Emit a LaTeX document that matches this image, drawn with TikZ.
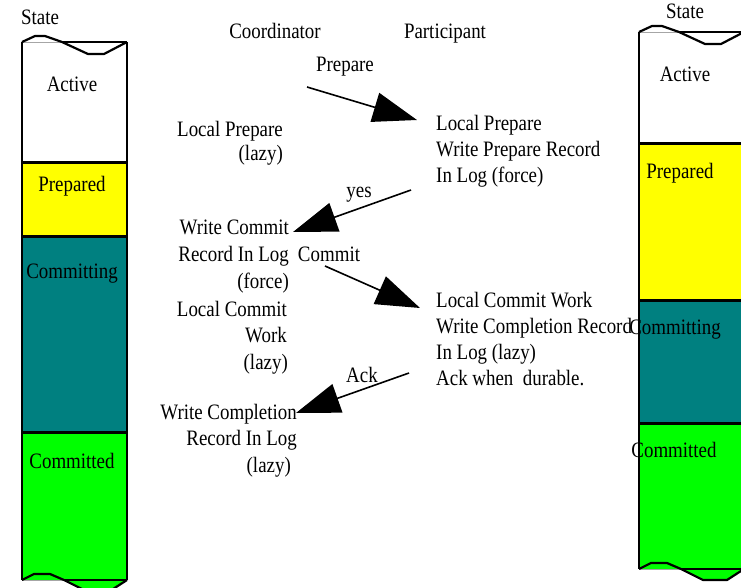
\documentclass[tikz,border=0pt]{standalone}
\usepackage{fontspec}
\setmainfont{Liberation Serif}[FakeStretch=0.86]
\usetikzlibrary{arrows.meta}

\definecolor{prepyellow}{RGB}{255,255,0}
\definecolor{committeal}{RGB}{0,128,128}
\definecolor{donegreen}{RGB}{0,255,0}

\tikzset{
  lbl/.style={font=\fontsize{22}{26}\selectfont, inner sep=0pt},
  lr/.style={lbl, anchor=base east},
  ll/.style={lbl, anchor=base west},
  lc/.style={lbl, anchor=base},
  msg/.style={line width=1.6pt, -{Triangle[length=44pt,width=30pt]}},
  sep/.style={line width=3pt},
  edge/.style={line width=1.8pt},
}

% wavy top and bottom edges of a state column, relative to its corner
\newcommand\topwave{++(0,0) -- ++(13,-6) -- ++(10,0) -- ++(17,6) -- ++(26,12) -- ++(16,0) -- ++(23,-12)}
\newcommand\botwave{++(0,0) -- ++(12,-6) -- ++(16,0) -- ++(14,6) -- ++(22,11) -- ++(24,0) -- ++(17,-11)}

% one state column: x0, top, bottom, and the three band boundaries
\newcommand\statecolumn[6]{%
  \fill[white] (#1,#2) rectangle (#1+105,#4);
  \fill[prepyellow] (#1,#4) rectangle (#1+105,#5);
  \fill[committeal] (#1,#5) rectangle (#1+105,#6);
  \fill[donegreen] (#1,#6) rectangle (#1+105,#3);
  \fill[donegreen] (#1,#3) \botwave -- cycle;
  % top edge
  \draw[gray!70, line width=0.6pt] (#1,#2) -- (#1+40,#2);
  \draw[line width=1.4pt] (#1+40,#2) -- (#1+105,#2);
  \draw[line width=2.2pt, line join=round] (#1,#2) \topwave;
  % bottom edge
  \draw[gray!70, line width=0.6pt] (#1,#3) -- (#1+42,#3);
  \draw[line width=1.4pt] (#1+42,#3) -- (#1+105,#3);
  \draw[line width=2.2pt, line join=round] (#1,#3) \botwave;
  % sides and band boundaries
  \draw[edge] (#1,#2) -- (#1,#3);
  \draw[edge] (#1+105,#2) -- (#1+105,#3);
  \draw[sep] (#1,#4) -- (#1+105,#4);
  \draw[sep] (#1,#5) -- (#1+105,#5);
  \draw[sep] (#1,#6) -- (#1+105,#6);
}

\begin{document}
\begin{tikzpicture}[x=1pt, y=-1pt]
\clip (0,0) rectangle (741,587);
\fill[white] (0,0) rectangle (741,587);

% coordinator state column
\statecolumn{22}{42}{580}{162}{236}{432}
\node[lc] (stateL) at (40,24) {State};
\node[lc] (activeL) at (72,91) {Active};
\node[lc] (preparedL) at (72,191) {Prepared};
\node[lc] (committingL) at (72,278) {Committing};
\node[lc] (committedL) at (72,468) {Committed};

% participant state column
\statecolumn{639}{32}{569}{143}{300}{423}
\node[lc] (stateR) at (685,18) {State};
\node[lc] (activeR) at (685,81) {Active};
\node[lc] (preparedR) at (680,178) {Prepared};
\node[lc] (committingR) at (675,334) {Committing};
\node[lc] (committedR) at (674,457) {Committed};

% headings
\node[lc] (coord) at (275,38) {Coordinator};
\node[lc] (part) at (445,38) {Participant};

% coordinator actions
\node[lr] (c1a) at (283,136) {Local Prepare};
\node[lr] (c1b) at (283,160) {(lazy)};

\node[lr] (c2a) at (289,234) {Write Commit};
\node[lr] (c2b) at (289,261) {Record In Log};
\node[lr] (c2c) at (289,288) {(force)};
\node[lr] (c2d) at (287,316) {Local Commit};
\node[lr] (c2e) at (287,342) {Work};
\node[lr] (c2f) at (288,369) {(lazy)};

\node[lr] (c3a) at (297,419) {Write Completion};
\node[lr] (c3b) at (297,445) {Record In Log};
\node[lr] (c3c) at (291,472) {(lazy)};

% participant actions
\node[ll] (p1a) at (436,130) {Local Prepare};
\node[ll] (p1b) at (436,156) {Write Prepare Record};
\node[ll] (p1c) at (436,182) {In Log (force)};

\node[ll] (p2a) at (436,307) {Local Commit Work};
\node[ll] (p2b) at (436,333) {Write Completion Record};
\node[ll] (p2c) at (436,359) {In Log (lazy)};
\node[ll] (p2d) at (436,385) {Ack when\ \ durable.};

% messages
\node[lc] (mPrepare) at (345,71) {Prepare};
\node[lc] (mYes) at (359,197) {yes};
\node[lc] (mCommit) at (329,261) {Commit};
\node[lc] (mAck) at (362,382) {Ack};

\coordinate (prepFrom) at (307,87);
\coordinate (prepTo) at (417,120);
\coordinate (yesFrom) at (411,190);
\coordinate (yesTo) at (293,232);
\coordinate (commitFrom) at (325,266);
\coordinate (commitTo) at (420,308);
\coordinate (ackFrom) at (409,373);
\coordinate (ackTo) at (296,413);

\draw[msg] (prepFrom) -- (prepTo);
\draw[msg] (yesFrom) -- (yesTo);
\draw[msg] (commitFrom) -- (commitTo);
\draw[msg] (ackFrom) -- (ackTo);
\end{tikzpicture}
\end{document}
